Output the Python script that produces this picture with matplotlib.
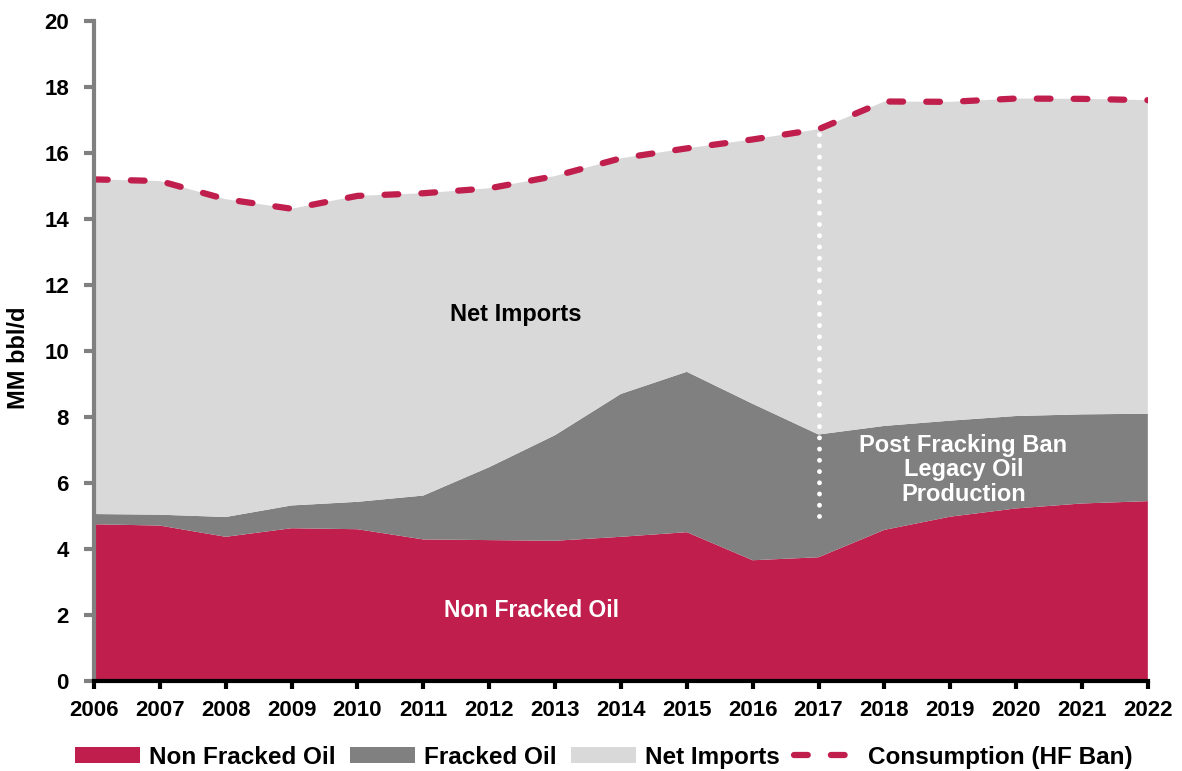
import matplotlib
matplotlib.use("Agg")
from matplotlib import pyplot as plt

years = list(range(2006, 2023))
non_fracked = [4.75, 4.71, 4.37, 4.63, 4.60, 4.29, 4.27, 4.25, 4.37, 4.51,
               3.66, 3.75, 4.58, 4.98, 5.23, 5.38, 5.45]
fracked = [0.31, 0.33, 0.60, 0.69, 0.83, 1.33, 2.21, 3.20, 4.33, 4.86,
           4.74, 3.72, 3.15, 2.91, 2.80, 2.70, 2.65]
consumption = [15.20, 15.15, 14.60, 14.31, 14.70, 14.78, 14.93, 15.30, 15.84, 16.14,
               16.41, 16.72, 17.56, 17.55, 17.65, 17.64, 17.60]
net_imports = [c - a - b for c, a, b in zip(consumption, non_fracked, fracked)]

ban_year = 2017
ban_line = (5.0, 16.7)

red = "#C01E4C"
dark_gray = "#808080"
light_gray = "#D9D9D9"

plt.rcParams["font.family"] = ["Liberation Sans", "DejaVu Sans"]
plt.rcParams["font.weight"] = "bold"

fig = plt.figure(figsize=(11.82, 7.71), dpi=100)
ax = fig.add_axes([0.0795, 0.1167, 0.8916, 0.8561])

ax.stackplot(years, non_fracked, fracked, net_imports,
             colors=[red, dark_gray, light_gray],
             labels=["Non Fracked Oil", "Fracked Oil", "Net Imports"],
             linewidth=0)
ax.plot(years, consumption, color=red, lw=4.5, dashes=(2.2, 3.7),
        dash_capstyle="round", label="Consumption (HF Ban)")

# dotted marker for the ban year
ax.plot([ban_year, ban_year], ban_line, color="white", lw=3.5,
        linestyle=(0, (0.01, 2.3)), dash_capstyle="round")

ax.text(2012.4, 11.1, "Net Imports", ha="center", va="center",
        fontsize=17, fontweight="bold", color="black")
ax.text(2012.65, 2.15, "Non Fracked Oil", ha="center", va="center",
        fontsize=16.5, fontweight="bold", color="white")
ax.text(2019.2, 6.4, "Post Fracking Ban\nLegacy Oil\nProduction", ha="center",
        va="center", fontsize=17, fontweight="bold", color="white", linespacing=1.1)

ax.set_xlim(2006, 2022)
ax.set_ylim(0, 20)
ax.set_xticks(years)
ax.set_yticks(range(0, 21, 2))
ax.tick_params(axis="both", labelsize=16)
ax.tick_params(axis="y", color="#808080", width=3, length=7, pad=11)
ax.tick_params(axis="x", color="black", width=3, length=6, pad=8)

ax.spines["top"].set_visible(False)
ax.spines["right"].set_visible(False)
ax.spines["left"].set_color("#808080")
ax.spines["left"].set_linewidth(3)
ax.spines["bottom"].set_color("black")
ax.spines["bottom"].set_linewidth(3)

ax.set_ylabel("MM bbl/d", fontsize=17, fontweight="bold")
ax.yaxis.set_label_coords(-0.061, 0.49)

handles, labels = ax.get_legend_handles_labels()
fig.legend(handles, labels, loc="center", bbox_to_anchor=(0.511, 0.018), ncol=4,
           frameon=False, handlelength=2.67, handleheight=0.6, handletextpad=0.37,
           columnspacing=0.6, borderpad=0, prop={"weight": "bold", "size": 17.5})

fig.savefig("out.png", dpi=100)
